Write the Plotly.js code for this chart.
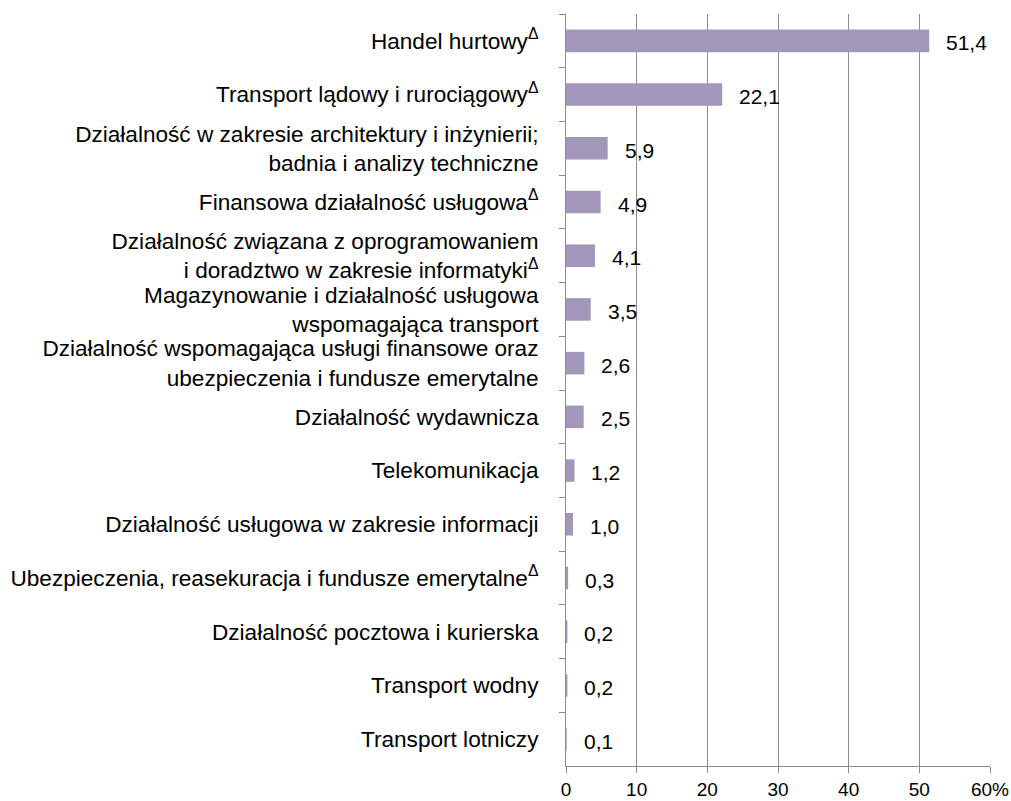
<!DOCTYPE html>
<html><head><meta charset="utf-8">
<script src="https://cdn.plot.ly/plotly-3.0.1.min.js"></script>
<style>body{margin:0;background:#fff}#c{width:1011px;height:801px}</style>
</head><body><div id="c"></div>
<script>
const categories = [
  "Handel hurtowy<sup>Δ</sup>",
  "Transport lądowy i rurociągowy<sup>Δ</sup>",
  "Działalność w zakresie architektury i inżynierii;<br>badnia i analizy techniczne",
  "Finansowa działalność usługowa<sup>Δ</sup>",
  "Działalność związana z oprogramowaniem<br>i doradztwo w zakresie informatyki<sup>Δ</sup>",
  "Magazynowanie i działalność usługowa<br>wspomagająca transport",
  "Działalność wspomagająca usługi finansowe oraz<br>ubezpieczenia i fundusze emerytalne",
  "Działalność wydawnicza",
  "Telekomunikacja",
  "Działalność usługowa w zakresie informacji",
  "Ubezpieczenia, reasekuracja i fundusze emerytalne<sup>Δ</sup>",
  "Działalność pocztowa i kurierska",
  "Transport wodny",
  "Transport lotniczy"
];
const values = [51.4, 22.1, 5.9, 4.9, 4.1, 3.5, 2.6, 2.5, 1.2, 1.0, 0.3, 0.2, 0.2, 0.1];
const xTickVals = [0, 10, 20, 30, 40, 50, 60];
const xTickText = ["0", "10", "20", "30", "40", "50", "60%"];

const fmt = v => v.toFixed(1).replace(".", ",");
const annotations = values.map((v, i) => ({
  x: v, y: categories[i], xref: "x", yref: "y",
  text: fmt(v), showarrow: false, xanchor: "left", xshift: 15, yshift: -2,
  font: {family: "Liberation Sans, Arial, sans-serif", size: 21, color: "#000"}
}));

Plotly.newPlot("c", [{
  type: "bar", orientation: "h",
  x: values, y: categories,
  marker: {color: "#A297BB"},
  hoverinfo: "none"
}], {
  width: 1011, height: 801,
  margin: {l: 566, r: 21, t: 14, b: 35},
  paper_bgcolor: "#fff", plot_bgcolor: "#fff",
  bargap: 0.58,
  showlegend: false,
  separators: ", ",
  xaxis: {
    range: [0, 60], tickvals: xTickVals, ticktext: xTickText,
    showgrid: true, gridcolor: "#8c8c8c", gridwidth: 1,
    showline: true, linecolor: "#8c8c8c", linewidth: 1,
    ticks: "outside", ticklen: 6, tickcolor: "#8c8c8c",
    zeroline: false, fixedrange: true,
    tickfont: {family: "Liberation Sans, Arial, sans-serif", size: 19, color: "#000"}
  },
  yaxis: {
    type: "category", autorange: "reversed",
    showline: true, linecolor: "#8c8c8c", linewidth: 1,
    ticks: "outside", ticklen: 6, tickcolor: "#8c8c8c", tickson: "boundaries",
    showgrid: false, fixedrange: true, ticklabelstandoff: 22,
    tickfont: {family: "Liberation Sans, Arial, sans-serif", size: 22.6, color: "#000"}
  },
  annotations: annotations
}, {staticPlot: true});
</script></body></html>
